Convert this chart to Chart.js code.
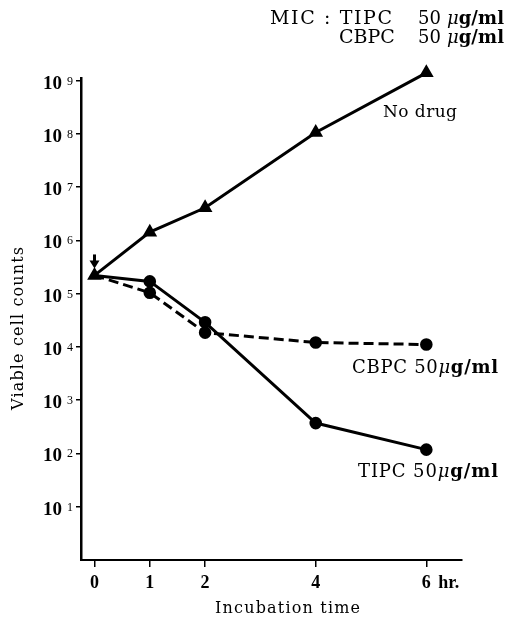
<!DOCTYPE html>
<html>
<head>
<meta charset="utf-8">
<script src="https://cdn.jsdelivr.net/npm/chart.js@4/dist/chart.umd.min.js"></script>
<style>
  html, body { margin: 0; padding: 0; background: #fff; }
  #wrap { width: 506px; height: 618px; }
</style>
</head>
<body>
<div id="wrap"><canvas id="chart"></canvas></div>
<script>
// -------------------------------------------------------------------
// Data (viable cell counts per hour)
// -------------------------------------------------------------------
const hours      = [0, 1, 2, 4, 6];
const noDrug     = [2.2e5, 1.43e6, 4.1e6, 1.06e8, 1.4e9];
const tipc       = [2.2e5, 1.7e5, 2.9e4, 372, 118];
const cbpc       = [2.2e5, 1.04e5, 1.86e4, 1.21e4, 1.11e4];
const yExponents = [1, 2, 3, 4, 5, 6, 7, 8, 9];
const xTicks     = [0, 1, 2, 4, 6];
const xTickText  = ["0", "1", "2", "4", "6"];

const BLACK = "#000";
const SERIF = "'DejaVu Serif', serif";
const LIB   = "'Liberation Serif', serif";

function pts(vals) {
  return hours.map((h, i) => ({ x: h, y: vals[i] }));
}

// -------------------------------------------------------------------
// Text helpers: draw a run of segments stretched to a given width
// -------------------------------------------------------------------
function fitRun(ctx, segs, x, y, width) {
  let natural = 0, chars = 0;
  segs.forEach(s => {
    ctx.font = s.f;
    natural += ctx.measureText(s.t).width;
    chars += s.t.length;
  });
  const sp = Math.max(0, (width - natural) / Math.max(1, chars - 1));
  ctx.letterSpacing = sp + "px";
  segs.forEach(s => {
    ctx.font = s.f;
    ctx.fillText(s.t, x, y);
    x += ctx.measureText(s.t).width;
  });
  ctx.letterSpacing = "0px";
}

function ugml(size, lead) {
  return [
    { t: lead, f: `${size}px ${SERIF}` },
    { t: "\u03bc", f: `italic ${size}px ${SERIF}` },
    { t: "g/ml", f: `bold ${size}px ${SERIF}` }
  ];
}

const annotate = {
  id: "annotate",
  afterDraw(chart) {
    const ctx = chart.ctx;
    const xs = chart.scales.x, ys = chart.scales.y;
    ctx.save();
    ctx.fillStyle = BLACK;
    ctx.strokeStyle = BLACK;
    ctx.textBaseline = "alphabetic";
    ctx.textAlign = "left";

    // y tick labels 10^n
    yExponents.forEach(e => {
      const y = ys.getPixelForValue(Math.pow(10, e));
      ctx.font = `bold 19px ${LIB}`;
      ctx.fillText("10", 43, y + 8);
      ctx.font = `12px ${LIB}`;
      ctx.fillText(String(e), 67, y + 4);
    });

    // x tick labels
    ctx.textAlign = "center";
    ctx.font = `bold 18px ${LIB}`;
    xTicks.forEach((v, i) => {
      ctx.fillText(xTickText[i], xs.getPixelForValue(v), 588);
    });
    ctx.textAlign = "left";
    ctx.fillText("hr.", xs.getPixelForValue(6) + 12, 588);

    // axis titles
    fitRun(ctx, [{ t: "Incubation time", f: `16px ${SERIF}` }], 215, 613, 145);
    ctx.save();
    ctx.translate(23, 410);
    ctx.rotate(-Math.PI / 2);
    fitRun(ctx, [{ t: "Viable cell counts", f: `16px ${SERIF}` }], 0, 0, 163);
    ctx.restore();

    // header
    fitRun(ctx, [{ t: "MIC : TIPC", f: `19px ${SERIF}` }], 270, 24, 122);
    fitRun(ctx, ugml(18, "50 "), 418, 24, 86);
    fitRun(ctx, [{ t: "CBPC", f: `19px ${SERIF}` }], 339, 43, 53);
    fitRun(ctx, ugml(18, "50 "), 418, 43, 86);

    // series labels
    fitRun(ctx, [{ t: "No drug", f: `17px ${SERIF}` }], 383, 117, 74);
    fitRun(ctx, [{ t: "CBPC ", f: `18px ${SERIF}` }].concat(ugml(18, "50")), 352, 373, 146);
    fitRun(ctx, [{ t: "TIPC ", f: `18px ${SERIF}` }].concat(ugml(18, "50")), 358, 477, 140);

    // start arrow
    const ax = xs.getPixelForValue(0);
    const ay = ys.getPixelForValue(noDrug[0]) - 8;
    ctx.lineWidth = 3;
    ctx.beginPath();
    ctx.moveTo(ax, ay - 13);
    ctx.lineTo(ax, ay - 5);
    ctx.stroke();
    ctx.beginPath();
    ctx.moveTo(ax - 5, ay - 7);
    ctx.lineTo(ax + 5, ay - 7);
    ctx.lineTo(ax, ay + 1);
    ctx.closePath();
    ctx.fill();

    ctx.restore();
  }
};

// -------------------------------------------------------------------
// Chart
// -------------------------------------------------------------------
const axisGrid = { drawOnChartArea: false, drawTicks: true, color: BLACK, lineWidth: 1.5 };

new Chart(document.getElementById("chart"), {
  type: "line",
  data: {
    datasets: [
      {
        label: "No drug",
        data: pts(noDrug),
        borderColor: BLACK,
        backgroundColor: BLACK,
        borderWidth: 3,
        pointStyle: "triangle",
        pointRadius: 5.5,
        clip: false
      },
      {
        label: "TIPC 50μg/ml",
        data: pts(tipc),
        borderColor: BLACK,
        backgroundColor: BLACK,
        borderWidth: 3,
        pointRadius: [0, 4.8, 4.8, 4.8, 4.8],
        clip: false
      },
      {
        label: "CBPC 50μg/ml",
        data: pts(cbpc),
        borderColor: BLACK,
        backgroundColor: BLACK,
        borderWidth: 3,
        borderDash: [10, 5],
        pointRadius: [0, 4.8, 4.8, 4.8, 4.8],
        clip: false
      }
    ]
  },
  options: {
    responsive: true,
    maintainAspectRatio: false,
    animation: false,
    layout: { padding: { top: 78, right: 44, left: 0, bottom: 0 } },
    plugins: { legend: { display: false }, tooltip: { enabled: false } },
    scales: {
      x: {
        type: "linear",
        min: -0.244,
        max: 6.645,
        afterBuildTicks: s => { s.ticks = xTicks.map(v => ({ value: v })); },
        afterFit: s => { s.height = 58; },
        ticks: { display: false },
        grid: Object.assign({ tickLength: 7 }, axisGrid),
        border: { color: BLACK, width: 2 }
      },
      y: {
        type: "logarithmic",
        min: 1,
        max: 1.12e9,
        afterBuildTicks: s => { s.ticks = yExponents.map(e => ({ value: Math.pow(10, e) })); },
        afterFit: s => { s.width = 81; },
        ticks: { display: false },
        grid: Object.assign({ tickLength: 5 }, axisGrid),
        border: { color: BLACK, width: 2.5 }
      }
    }
  },
  plugins: [annotate]
});
</script>
</body>
</html>
